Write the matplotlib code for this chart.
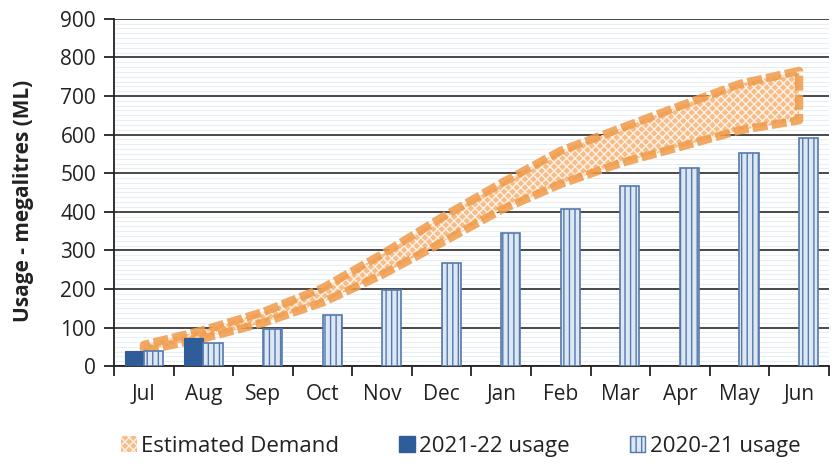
import matplotlib.pyplot as plt
import numpy as np
from matplotlib.patches import Patch

plt.rcParams['font.family'] = ['Open Sans', 'DejaVu Sans']
plt.rcParams['hatch.linewidth'] = 1.0

months = ['Jul', 'Aug', 'Sep', 'Oct', 'Nov', 'Dec', 'Jan', 'Feb', 'Mar', 'Apr', 'May', 'Jun']
usage_2021_22 = [38, 72, 0, 0, 0, 0, 0, 0, 0, 0, 0, 0]
usage_2020_21 = [38, 60, 97, 133, 198, 268, 345, 408, 468, 513, 553, 590]
demand_low = [40, 72, 112, 165, 237, 320, 405, 472, 526, 568, 611, 637]
demand_high = [55, 93, 140, 202, 290, 385, 474, 558, 616, 674, 731, 765]

x = np.arange(len(months))
w = 0.32

fig = plt.figure(figsize=(8.33, 4.70), dpi=100)
ax = fig.add_axes([0.137, 0.221, 0.858, 0.739])

# background: faint stripes + main gridlines
ax.set_yticks(np.arange(0, 901, 12.5), minor=True)
ax.grid(axis='y', which='minor', color='#e9eef4', lw=0.8, zorder=0)
ax.grid(axis='y', which='major', color='#3a3a3a', lw=1.3, zorder=1)
ax.set_axisbelow(True)

# estimated demand band
ax.fill_between(x, demand_low, demand_high, facecolor='#f6bd88', edgecolor='#fdf1e6',
                hatch='xxxx', lw=0, zorder=2)
band_edge = np.concatenate([demand_low, demand_high[::-1], demand_low[:1]])
band_x = np.concatenate([x, x[::-1], x[:1]])
ax.plot(band_x, band_edge, color='#f09a48', lw=6, ls=(0, (1.8, 0.5)), alpha=0.85,
        solid_capstyle='butt', zorder=3)

# usage bars
ax.bar(x - w / 2, usage_2021_22, w, color='#2e5d99', edgecolor='#2e5d99', lw=0.8, zorder=4)
ax.bar(x + w / 2, usage_2020_21, w, facecolor='#dde8f5', edgecolor='#5679ac', hatch='|||',
       lw=1.2, zorder=4)

ax.set_xlim(-0.5, len(months) - 0.5)
ax.set_ylim(0, 900)
ax.set_yticks(range(0, 901, 100))
ax.set_xticks(x)
ax.set_xticklabels(months, fontsize=15)
ax.set_xticks(np.arange(-0.5, len(months), 1), minor=True)
ax.tick_params(axis='x', which='major', length=0, pad=13)
ax.tick_params(axis='x', which='minor', length=7, width=1.3, color='#222222', direction='out')
ax.tick_params(axis='y', which='major', length=7, width=1.3, color='#222222', labelsize=15,
               pad=6)
ax.tick_params(axis='y', which='minor', length=0)
for lab in ax.get_yticklabels() + ax.get_xticklabels():
    lab.set_color('#222222')

for s in ['top', 'right']:
    ax.spines[s].set_visible(False)
ax.spines['left'].set_linewidth(1.3)
ax.spines['bottom'].set_linewidth(1.3)
ax.spines['left'].set_color('#222222')
ax.spines['bottom'].set_color('#222222')

ax.set_ylabel('Usage - megalitres (ML)', fontsize=15, fontweight='bold', color='#222222')
ax.yaxis.set_label_coords(-0.112, 0.475)

handles = [
    Patch(facecolor='#f6bd88', edgecolor='#fdf1e6', hatch='xxxx', lw=0),
    Patch(facecolor='#2e5d99', edgecolor='#2e5d99'),
    Patch(facecolor='#dde8f5', edgecolor='#5679ac', hatch='|||'),
]
fig.legend(handles, ['Estimated Demand', '2021-22 usage', '2020-21 usage'],
           loc='lower center', bbox_to_anchor=(0.553, -0.015), ncol=3, frameon=False,
           fontsize=16, handlelength=0.7, handleheight=0.7, handletextpad=0.2,
           columnspacing=2.7, labelcolor='#222222')

fig.savefig('out.png', dpi=100)
